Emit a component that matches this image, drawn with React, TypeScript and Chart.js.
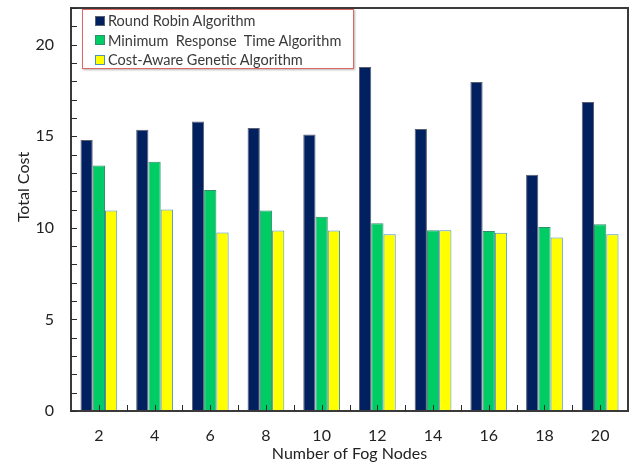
import React, { useEffect, useRef } from "react";
import { Chart, registerables } from "chart.js";

Chart.register(...registerables);

const categories = ["2", "4", "6", "8", "10", "12", "14", "16", "18", "20"];
const roundRobin = [14.8, 15.35, 15.8, 15.45, 15.1, 18.78, 15.4, 17.96, 12.9, 16.87];
const minResponse = [13.4, 13.6, 12.06, 10.95, 10.6, 10.25, 9.87, 9.83, 10.04, 10.2];
const costAware = [10.95, 11.0, 9.75, 9.85, 9.85, 9.65, 9.87, 9.73, 9.47, 9.65];
const seriesNames = [
  "Round Robin Algorithm",
  "Minimum  Response  Time Algorithm",
  "Cost-Aware Genetic Algorithm",
];
const yMax = 22;

const colors = ["#002060", "#00cc66", "#ffff00"];
const borders = ["#5a6070", "#2f8f6a", "#4a8fc0"];
const FONT = "Lato, 'Open Sans', sans-serif";

const framePlugin = {
  id: "frame",
  afterDraw(chart: any) {
    const { ctx, chartArea, scales } = chart;
    const { left, right, top, bottom } = chartArea;
    const x = scales.x;
    const y = scales.y;
    const L = Math.round(left);
    const R = Math.round(right);
    const T = Math.round(top);
    const B = Math.round(bottom);
    ctx.save();
    ctx.strokeStyle = "#3a3a3a";
    ctx.lineWidth = 2;
    ctx.beginPath();
    ctx.rect(L, T, R - L, B - T);
    ctx.stroke();
    ctx.strokeStyle = "#2a2a2a";
    ctx.lineWidth = 1;
    ctx.beginPath();
    y.ticks.forEach((t: any) => {
      const py = Math.round(y.getPixelForValue(t.value)) + 0.5;
      ctx.moveTo(L, py);
      ctx.lineTo(L + 6, py);
    });
    const n = x.ticks.length;
    for (let i = 0; i < n; i++) {
      const c = Math.round(x.getPixelForValue(i)) + 0.5;
      ctx.moveTo(c, B);
      ctx.lineTo(c, B - 6);
      if (i > 0) {
        const px = Math.round((x.getPixelForValue(i - 1) + x.getPixelForValue(i)) / 2) + 0.5;
        ctx.moveTo(px, B);
        ctx.lineTo(px, B - 6);
      }
    }
    ctx.stroke();
    ctx.fillStyle = "#222";
    ctx.font = `16px ${FONT}`;
    ctx.textAlign = "center";
    ctx.textBaseline = "middle";
    ctx.fillText("Number of Fog Nodes", (left + right) / 2, 454);
    ctx.translate(24, 187);
    ctx.rotate(-Math.PI / 2);
    ctx.fillText("Total Cost", 0, 0);
    ctx.restore();
  },
};

export default function App() {
  const ref = useRef<HTMLCanvasElement>(null);
  useEffect(() => {
    const chart = new Chart(ref.current!, {
      type: "bar",
      data: {
        labels: categories,
        datasets: [roundRobin, minResponse, costAware].map((d, i) => ({
          label: seriesNames[i],
          data: d,
          backgroundColor: colors[i],
          borderColor: borders[i],
          borderWidth: 1,
          categoryPercentage: 0.66,
          barPercentage: 1,
        })),
      },
      options: {
        responsive: false,
        animation: false,
        layout: { padding: { left: 0, right: 6, top: 8, bottom: 0 } },
        plugins: { legend: { display: false }, tooltip: { enabled: false } },
        scales: {
          x: {
            grid: { display: false, drawTicks: false },
            border: { display: false },
            ticks: { color: "#222", font: { size: 16, family: FONT }, padding: 15, maxRotation: 0, autoSkip: false },
            afterFit: (s: any) => {
              s.height = 57;
              s.paddingLeft = 0;
              s.paddingRight = 0;
            },
          },
          y: {
            min: 0,
            max: yMax,
            grid: { display: false, drawTicks: false },
            border: { display: false },
            ticks: {
              stepSize: 1,
              autoSkip: false,
              color: "#222",
              font: { size: 16, family: FONT },
              padding: 17,
              callback: (v: any) => (Number(v) % 5 === 0 ? String(v) : ""),
            },
            afterFit: (s: any) => {
              s.width = 71;
              s.paddingTop = 0;
              s.paddingBottom = 0;
            },
          },
        },
      },
      plugins: [framePlugin],
    });
    return () => chart.destroy();
  }, []);

  return (
    <div style={{ position: "fixed", left: 0, top: 0, width: 634, height: 468, background: "#fff" }}>
      <canvas ref={ref} width={634} height={468} style={{ display: "block" }} />
      <div
        style={{
          position: "absolute",
          left: 82,
          top: 9,
          width: 270,
          height: 58,
          border: "1.5px solid #e06666",
          background: "#fff",
          boxShadow: "1px 1px 2px rgba(0,0,0,0.3)",
          fontFamily: FONT,
          fontSize: 14.5,
          color: "#3a3a3a",
        }}
      >
        {seriesNames.map((n, i) => (
          <div
            key={n}
            style={{ position: "absolute", left: 12, top: 1.5 + i * 19.5, height: 18, display: "flex", alignItems: "center", whiteSpace: "pre" }}
          >
            <span
              style={{
                display: "inline-block",
                width: 8,
                height: 8,
                background: colors[i],
                border: `1px solid ${borders[i]}`,
                marginRight: 3,
              }}
            />
            <span>{n}</span>
          </div>
        ))}
      </div>
    </div>
  );
}
